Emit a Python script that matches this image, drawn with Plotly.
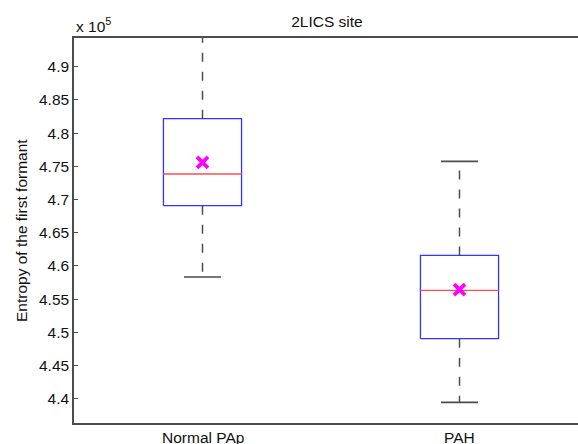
import plotly.graph_objects as go

# ---------------- data (values in units of 1e5) ----------------
categories = ["Normal PAp", "PAH"]
positions = [1, 2]
lower_whisker = [4.5833, 4.3944]
q1 = [4.6907, 4.4904]
median = [4.7384, 4.5631]
q3 = [4.8217, 4.6158]
upper_whisker = [4.9700, 4.7574]
mean = [4.7559, 4.5642]
y_ticks = [4.4, 4.45, 4.5, 4.55, 4.6, 4.65, 4.7, 4.75, 4.8, 4.85, 4.9]
y_tick_labels = ["4.4", "4.45", "4.5", "4.55", "4.6", "4.65", "4.7", "4.75", "4.8", "4.85", "4.9"]

# ---------------- style ----------------
BOX_HALF = 0.152
CAP_HALF = 0.072
FONT = "Liberation Sans, Arial, sans-serif"
FS = 15.5
GREY = "#4d4d4d"
TXT = "#111111"

fig = go.Figure()

for i, p in enumerate(positions):
    # upper whisker (dashed)
    fig.add_trace(go.Scatter(x=[p, p], y=[q3[i], upper_whisker[i]], mode="lines",
                             line=dict(color=GREY, width=1.5, dash="9px,10px"),
                             showlegend=False, hoverinfo="skip"))
    # lower whisker (dashed)
    fig.add_trace(go.Scatter(x=[p, p], y=[q1[i], lower_whisker[i]], mode="lines",
                             line=dict(color=GREY, width=1.5, dash="9px,10px"),
                             showlegend=False, hoverinfo="skip"))
    # caps
    for v in (upper_whisker[i], lower_whisker[i]):
        fig.add_trace(go.Scatter(x=[p - CAP_HALF, p + CAP_HALF], y=[v, v], mode="lines",
                                 line=dict(color=GREY, width=1.6),
                                 showlegend=False, hoverinfo="skip"))
    # box
    fig.add_trace(go.Scatter(x=[p - BOX_HALF, p + BOX_HALF, p + BOX_HALF, p - BOX_HALF, p - BOX_HALF],
                             y=[q1[i], q1[i], q3[i], q3[i], q1[i]], mode="lines",
                             line=dict(color="#3333ff", width=1.3),
                             showlegend=False, hoverinfo="skip"))
    # median
    fig.add_trace(go.Scatter(x=[p - BOX_HALF, p + BOX_HALF], y=[median[i], median[i]], mode="lines",
                             line=dict(color="#ff4d4d", width=1.3),
                             showlegend=False, hoverinfo="skip"))

# mean markers
fig.add_trace(go.Scatter(x=positions, y=mean, mode="markers",
                         marker=dict(symbol="x-thin-open", size=11, color="#ff00ff",
                                     line=dict(color="#ff00ff", width=3.8)),
                         showlegend=False, hoverinfo="skip"))

annotations = [
    dict(text="x 10<sup>5</sup>", xref="paper", yref="paper", x=0, y=1,
         xanchor="left", yanchor="bottom", yshift=1, showarrow=False,
         font=dict(family=FONT, size=FS, color=TXT)),
    dict(text="Entropy of the first formant", xref="paper", yref="paper",
         x=(21.5 - 74) / 504, y=0.5, xanchor="center", yanchor="middle",
         textangle=-90, showarrow=False,
         font=dict(family=FONT, size=FS, color=TXT)),
]
for p, c in zip(positions, categories):
    annotations.append(dict(text=c, xref="x", yref="paper", x=p, y=0,
                            xanchor="center", yanchor="top", yshift=-4, showarrow=False,
                            font=dict(family=FONT, size=FS, color=TXT)))

fig.update_layout(
    width=578, height=444,
    margin=dict(l=74, r=0, t=38, b=21),
    paper_bgcolor="white", plot_bgcolor="white",
    font=dict(family=FONT, size=FS, color=TXT),
    title=dict(text="2LICS site", x=327 / 578, xanchor="center",
               y=1 - 22 / 444, yanchor="middle", font=dict(family=FONT, size=FS, color=TXT)),
    xaxis=dict(range=[0.5, 0.5 + 504 / 257], tickmode="array", tickvals=positions,
               showticklabels=False, ticks="", showgrid=False, zeroline=False,
               showline=True, linecolor=GREY, linewidth=1.5, mirror=True),
    yaxis=dict(range=[4.3634, 4.9432], tickmode="array", tickvals=y_ticks,
               ticktext=y_tick_labels, ticks="inside", ticklen=4, tickcolor=GREY,
               showgrid=False, zeroline=False, showline=True, linecolor=GREY, linewidth=1.5,
               tickfont=dict(family=FONT, size=FS, color=TXT)),
    annotations=annotations,
)

fig.write_html(
    "out.html",
    config={"displayModeBar": False},
    post_script="document.body.style.margin='0';document.body.style.padding='0';"
                "document.body.style.overflow='hidden';",
)
